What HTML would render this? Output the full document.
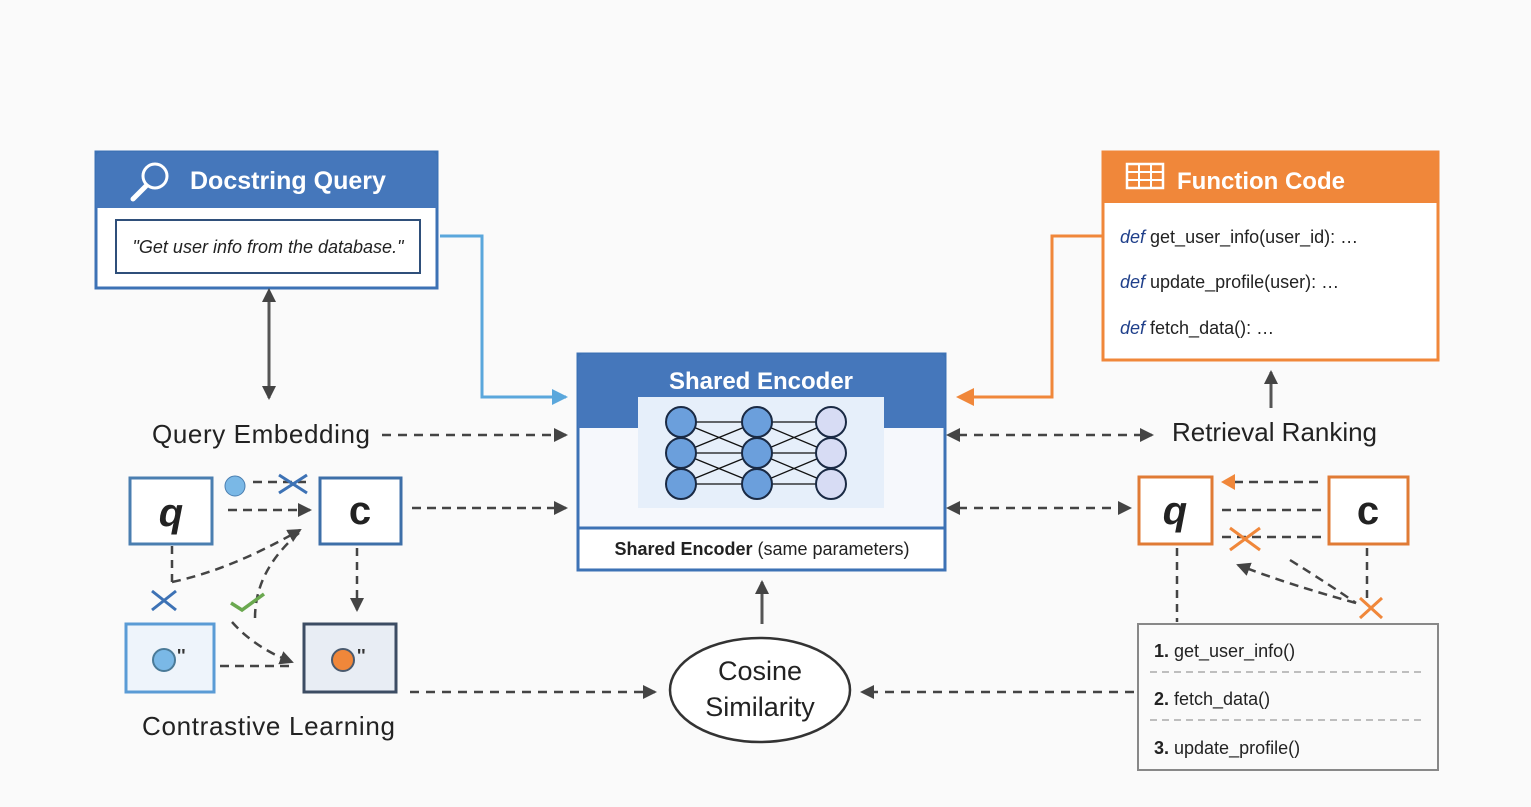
<!DOCTYPE html>
<html><head><style>
body{margin:0;background:#fafafa;}
svg{display:block;font-family:"Liberation Sans","DejaVu Sans",sans-serif;}
</style></head><body>
<svg width="1531" height="807" viewBox="0 0 1531 807" xmlns="http://www.w3.org/2000/svg">
<defs>
<marker id="adb" markerWidth="14" markerHeight="14" refX="12" refY="7" orient="auto" markerUnits="userSpaceOnUse"><path d="M0,0 L14,7 L0,14 z" fill="#444"/></marker>
<marker id="adr" markerWidth="14" markerHeight="14" refX="2" refY="7" orient="auto-start-reverse" markerUnits="userSpaceOnUse"><path d="M0,0 L14,7 L0,14 z" fill="#444"/></marker>
<marker id="ab" markerWidth="16" markerHeight="16" refX="14" refY="8" orient="auto" markerUnits="userSpaceOnUse"><path d="M0,0 L16,8 L0,16 z" fill="#5aa7dc"/></marker>
</defs>
<rect width="1531" height="807" fill="#fafafa"/>

<!-- Docstring Query -->
<rect x="96" y="152" width="341" height="136" fill="#fff" stroke="#3d72b5" stroke-width="3"/>
<path d="M96,158 q0,-6 6,-6 h329 q6,0 6,6 v50 h-341 z" fill="#4577bb"/>
<circle cx="155" cy="176" r="12" fill="none" stroke="#fff" stroke-width="3"/>
<line x1="146" y1="186" x2="133" y2="199" stroke="#fff" stroke-width="5" stroke-linecap="round"/>
<text x="190" y="189" font-size="25" fill="#fff" font-weight="bold">Docstring Query</text>
<rect x="116" y="220" width="304" height="53" fill="#fff" stroke="#2f4f7a" stroke-width="2"/>
<text x="268" y="253" font-size="18" fill="#222" text-anchor="middle" font-style="italic">"Get user info from the database."</text>

<!-- Function Code -->
<rect x="1103" y="152" width="335" height="208" fill="#fff" stroke="#f0873a" stroke-width="3"/>
<path d="M1103,158 q0,-6 6,-6 h323 q6,0 6,6 v45 h-335 z" fill="#f0873a"/>
<rect x="1127" y="164" width="36" height="24" fill="none" stroke="#fff" stroke-width="2.5"/>
<line x1="1127" y1="172" x2="1163" y2="172" stroke="#fff" stroke-width="2"/>
<line x1="1127" y1="180" x2="1163" y2="180" stroke="#fff" stroke-width="2"/>
<line x1="1139" y1="164" x2="1139" y2="188" stroke="#fff" stroke-width="2"/>
<line x1="1151" y1="164" x2="1151" y2="188" stroke="#fff" stroke-width="2"/>
<text x="1177" y="189" font-size="24" fill="#fff" font-weight="bold">Function Code</text>
<g font-size="18" fill="#222"><text x="1120" y="243"><tspan fill="#1f3f8a" font-style="italic">def</tspan> get_user_info(user_id): …</text>
<text x="1120" y="288"><tspan fill="#1f3f8a" font-style="italic">def</tspan> update_profile(user): …</text>
<text x="1120" y="334"><tspan fill="#1f3f8a" font-style="italic">def</tspan> fetch_data(): …</text></g>

<!-- Shared Encoder -->
<rect x="578" y="354" width="367" height="216" fill="#f6f8fc" stroke="#3d72b5" stroke-width="3"/>
<path d="M578,360 q0,-6 6,-6 h355 q6,0 6,6 v68 h-367 z" fill="#4577bb"/>
<text x="761" y="389" font-size="24" fill="#fff" font-weight="bold" text-anchor="middle">Shared Encoder</text>
<rect x="638" y="397" width="246" height="111" fill="#e6effa"/>
<g stroke="#111" stroke-width="1.3">
<path d="M681,422 L757,422 M681,422 L757,453 M681,453 L757,422 M681,453 L757,453 M681,453 L757,484 M681,484 L757,453 M681,484 L757,484 M757,422 L831,422 M757,422 L831,453 M757,453 L831,422 M757,453 L831,453 M757,453 L831,484 M757,484 L831,453 M757,484 L831,484"/>
</g>
<g stroke="#1a2a44" stroke-width="2" fill="#6b9fdc">
<circle cx="681" cy="422" r="15"/><circle cx="681" cy="453" r="15"/><circle cx="681" cy="484" r="15"/>
<circle cx="757" cy="422" r="15"/><circle cx="757" cy="453" r="15"/><circle cx="757" cy="484" r="15"/>
<circle cx="831" cy="422" r="15" fill="#d7dcf4"/><circle cx="831" cy="453" r="15" fill="#d7dcf4"/><circle cx="831" cy="484" r="15" fill="#d7dcf4"/>
</g>
<rect x="580" y="528" width="363" height="40" fill="#fff"/>
<line x1="578" y1="528" x2="945" y2="528" stroke="#3d72b5" stroke-width="3"/>
<text x="762" y="555" font-size="18" fill="#222" text-anchor="middle"><tspan font-weight="bold">Shared Encoder</tspan> (same parameters)</text>

<!-- connectors to encoder -->
<polyline points="440,236 482,236 482,397 566,397" fill="none" stroke="#5aa7dc" stroke-width="3" marker-end="url(#ab)"/>
<polyline points="1102,236 1052,236 1052,397 972,397" fill="none" stroke="#f0873a" stroke-width="3"/>
<path d="M956,397 L974,388 L974,406 z" fill="#f0873a"/>
<line x1="269" y1="300" x2="269" y2="398" stroke="#555" stroke-width="3" marker-end="url(#adb)" marker-start="url(#adr)"/>
<text x="152" y="443" font-size="26" fill="#222" textLength="218">Query Embedding</text>
<line x1="382" y1="435" x2="566" y2="435" stroke="#444" stroke-width="2.5" stroke-dasharray="9,7" marker-end="url(#adb)"/>
<line x1="958" y1="435" x2="1152" y2="435" stroke="#444" stroke-width="2.5" stroke-dasharray="9,7" marker-end="url(#adb)" marker-start="url(#adr)"/>
<text x="1172" y="441" font-size="26" fill="#222" textLength="205">Retrieval Ranking</text>
<line x1="1271" y1="408" x2="1271" y2="372" stroke="#555" stroke-width="3" marker-end="url(#adb)"/>

<!-- left q c -->
<rect x="130" y="478" width="82" height="66" fill="#fff" stroke="#4a7eb0" stroke-width="3"/>
<text x="171" y="526" font-size="40" font-weight="bold" font-style="italic" fill="#222" text-anchor="middle">q</text>
<rect x="320" y="478" width="81" height="66" fill="#fff" stroke="#3d6fa8" stroke-width="3"/>
<text x="360" y="524" font-size="40" font-weight="bold" fill="#222" text-anchor="middle">c</text>
<circle cx="235" cy="486" r="10" fill="#7ab8e6" stroke="#4a7eb0" stroke-width="1"/>
<line x1="253" y1="482" x2="306" y2="482" stroke="#444" stroke-width="2.5" stroke-dasharray="9,6"/>
<path d="M279,475 L307,493 M279,493 L307,475" stroke="#3d72b5" stroke-width="3"/>
<line x1="228" y1="510" x2="310" y2="510" stroke="#444" stroke-width="2.5" stroke-dasharray="9,6" marker-end="url(#adb)"/>
<line x1="412" y1="508" x2="566" y2="508" stroke="#444" stroke-width="2.5" stroke-dasharray="9,6" marker-end="url(#adb)"/>
<line x1="172" y1="546" x2="172" y2="582" stroke="#444" stroke-width="2.5" stroke-dasharray="8,6"/>
<path d="M172,582 Q230,570 300,530" fill="none" stroke="#444" stroke-width="2.5" stroke-dasharray="9,6" marker-end="url(#adb)"/>
<path d="M255,618 Q255,570 300,532" fill="none" stroke="#444" stroke-width="2.5" stroke-dasharray="9,6"/>
<path d="M232,622 Q255,648 292,662" fill="none" stroke="#444" stroke-width="2.5" stroke-dasharray="9,6" marker-end="url(#adb)"/>
<path d="M152,591 L176,610 M152,610 L176,591" stroke="#3d72b5" stroke-width="3"/>
<path d="M231,603 L242,610 L264,594" fill="none" stroke="#6aa84f" stroke-width="3.5"/>
<line x1="357" y1="548" x2="357" y2="610" stroke="#444" stroke-width="2.5" stroke-dasharray="8,6" marker-end="url(#adb)"/>
<rect x="126" y="624" width="88" height="68" fill="#eef4fb" stroke="#5a9bd5" stroke-width="3"/>
<circle cx="164" cy="660" r="11" fill="#7ab8e6" stroke="#4a7a98" stroke-width="2"/>
<text x="177" y="662" font-size="18" font-weight="bold" fill="#333">''</text>
<rect x="304" y="624" width="92" height="68" fill="#e8edf4" stroke="#3c4c63" stroke-width="3"/>
<circle cx="343" cy="660" r="11" fill="#f0873a" stroke="#4a5a6e" stroke-width="2"/>
<text x="357" y="662" font-size="18" font-weight="bold" fill="#333">''</text>
<line x1="220" y1="666" x2="292" y2="666" stroke="#444" stroke-width="2.5" stroke-dasharray="9,6"/>
<text x="142" y="735" font-size="26" fill="#222" textLength="253">Contrastive Learning</text>
<line x1="410" y1="692" x2="655" y2="692" stroke="#444" stroke-width="2.5" stroke-dasharray="9,7" marker-end="url(#adb)"/>

<!-- Cosine -->
<ellipse cx="760" cy="690" rx="90" ry="52" fill="#fff" stroke="#333" stroke-width="2.5"/>
<text x="760" y="680" font-size="27" fill="#222" text-anchor="middle">Cosine</text>
<text x="760" y="716" font-size="27" fill="#222" text-anchor="middle">Similarity</text>
<line x1="762" y1="624" x2="762" y2="582" stroke="#555" stroke-width="3" marker-end="url(#adb)"/>
<line x1="1134" y1="692" x2="862" y2="692" stroke="#444" stroke-width="2.5" stroke-dasharray="9,7" marker-end="url(#adb)"/>

<!-- right q c -->
<line x1="958" y1="508" x2="1130" y2="508" stroke="#444" stroke-width="2.5" stroke-dasharray="9,7" marker-end="url(#adb)" marker-start="url(#adr)"/>
<rect x="1139" y="477" width="73" height="67" fill="#fff" stroke="#e07b35" stroke-width="3"/>
<text x="1175" y="524" font-size="40" font-weight="bold" font-style="italic" fill="#222" text-anchor="middle">q</text>
<rect x="1329" y="477" width="79" height="67" fill="#fff" stroke="#e07b35" stroke-width="3"/>
<text x="1368" y="524" font-size="40" font-weight="bold" fill="#222" text-anchor="middle">c</text>
<line x1="1318" y1="482" x2="1235" y2="482" stroke="#444" stroke-width="2.5" stroke-dasharray="9,6"/>
<path d="M1221,482 L1235,474 L1235,490 z" fill="#f0873a"/>
<line x1="1222" y1="510" x2="1322" y2="510" stroke="#444" stroke-width="2.5" stroke-dasharray="9,6"/>
<line x1="1222" y1="537" x2="1322" y2="537" stroke="#444" stroke-width="2.5" stroke-dasharray="9,6"/>
<path d="M1230,528 L1260,550 M1230,550 L1260,528" stroke="#f0873a" stroke-width="3"/>
<path d="M1356,603 Q1290,585 1238,565" fill="none" stroke="#444" stroke-width="2.5" stroke-dasharray="9,6" marker-end="url(#adb)"/>
<path d="M1290,560 Q1330,585 1356,603" fill="none" stroke="#444" stroke-width="2.5" stroke-dasharray="9,6"/>
<path d="M1360,598 L1382,618 M1360,618 L1382,598" stroke="#f0873a" stroke-width="3"/>
<line x1="1367" y1="548" x2="1367" y2="598" stroke="#444" stroke-width="2.5" stroke-dasharray="8,6"/>
<line x1="1177" y1="548" x2="1177" y2="622" stroke="#444" stroke-width="2.5" stroke-dasharray="8,6"/>

<!-- ranking -->
<rect x="1138" y="624" width="300" height="146" fill="#fafafa" stroke="#888" stroke-width="2"/>
<g font-size="18" fill="#222">
<text x="1154" y="657"><tspan font-weight="bold">1.</tspan>  get_user_info()</text>
<text x="1154" y="705"><tspan font-weight="bold">2.</tspan>  fetch_data()</text>
<text x="1154" y="754"><tspan font-weight="bold">3.</tspan>  update_profile()</text></g>
<line x1="1150" y1="672" x2="1425" y2="672" stroke="#aaa" stroke-width="1.5" stroke-dasharray="7,5"/>
<line x1="1150" y1="720" x2="1425" y2="720" stroke="#aaa" stroke-width="1.5" stroke-dasharray="7,5"/>
</svg>
</body></html>
